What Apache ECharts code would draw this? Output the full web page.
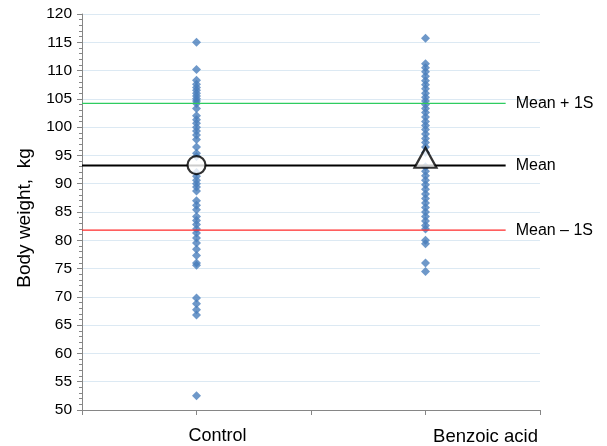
<!DOCTYPE html>
<html><head><meta charset="utf-8">
<script src="https://cdn.jsdelivr.net/npm/echarts@6/dist/echarts.min.js"></script>
<style>html,body{margin:0;padding:0;background:#fff}#c{width:607px;height:446px}</style>
</head><body><div id="c"></div>
<script>
var categories = ['Control', 'Benzoic acid'];
var categoryX = [1, 3];
var controlValues = [115, 110.2, 108.3, 107.6, 107, 106.5, 106, 105.5, 105, 104.6, 104.2, 103.3, 102, 101.3, 100.7, 100, 99.3, 98.6, 97.8, 96.5, 95.4, 94.8, 92, 91.3, 90.6, 90, 89.4, 88.7, 87, 86.2, 85.4, 84.2, 83.5, 82.8, 82, 81.3, 80.4, 79.5, 78.4, 77.3, 76, 75.6, 69.8, 68.8, 67.7, 66.8, 52.5];
var benzoicValues = [115.7, 111.2, 110.5, 109.8, 109, 108.2, 107.5, 106.8, 106, 105.3, 104.6, 104, 103.3, 102.6, 101.8, 101, 100.3, 99.6, 98.8, 98, 97.3, 96.5, 95.5, 93, 92.2, 91.4, 90.6, 89.8, 89, 88.2, 87.4, 86.6, 85.8, 85, 84.2, 83.4, 82.6, 82, 80, 79.4, 76, 74.5];
var groupMeans = [93.3, 94.6];
var refNames = ['Mean + 1S', 'Mean', 'Mean \u2013 1S'];
var refValues = [104.2, 93.2, 81.8];
var refColors = ['#2ecc60', '#000000', '#ff2a2a'];
var refLineEnd = 3.7;
var yTicks = {min: 50, max: 120, interval: 5};

var chart = echarts.init(document.getElementById('c'));
var series = [];
[controlValues, benzoicValues].forEach(function (vals, i) {
  series.push({
    type: 'scatter', name: categories[i], symbol: 'diamond', symbolSize: 9,
    itemStyle: {color: '#4a7ebb'}, z: 2, silent: true,
    data: vals.map(function (v) { return [categoryX[i], v]; })
  });
});
refValues.forEach(function (v, i) {
  series.push({
    type: 'line', name: refNames[i], symbol: 'none', z: 3, silent: true,
    lineStyle: {color: refColors[i], width: i === 1 ? 2 : 1.3},
    data: [[0, v], [refLineEnd, v]],
    endLabel: {show: true, formatter: refNames[i], color: '#000', fontSize: 16,
      fontFamily: 'Liberation Sans', distance: 10}
  });
});
series.push({
  type: 'scatter', symbol: 'circle', symbolSize: 18, z: 5, silent: true,
  itemStyle: {color: '#fff', borderColor: '#000', borderWidth: 2.2},
  data: [[categoryX[0], groupMeans[0]]]
});
series.push({
  type: 'scatter', symbol: 'triangle', symbolSize: [22, 20], z: 5, silent: true,
  itemStyle: {color: '#fff', borderColor: '#000', borderWidth: 2.2},
  data: [[categoryX[1], groupMeans[1]]]
});

chart.setOption({
  animation: false,
  grid: {left: 82, right: 67, top: 14, bottom: 36},
  xAxis: {
    type: 'value', min: 0, max: 4, interval: 1,
    axisLine: {lineStyle: {color: '#868686'}},
    axisTick: {show: true, inside: false, length: 5, lineStyle: {color: '#868686'}},
    splitLine: {show: false},
    axisLabel: {
      margin: 17, color: '#000', fontSize: 18, fontFamily: 'Liberation Sans',
      formatter: function (v) {
        var i = categoryX.indexOf(v);
        if (i < 0) return '';
        return '{' + (i === 0 ? 'a' : 'b') + '|' + categories[i] + '}';
      },
      rich: {
        a: {padding: [0, 0, 0, 42], fontSize: 18, fontFamily: 'Liberation Sans', color: '#000'},
        b: {padding: [0, 0, 0, 120], fontSize: 18.5, fontFamily: 'Liberation Sans', color: '#000'}
      }
    }
  },
  yAxis: {
    type: 'value', min: yTicks.min, max: yTicks.max, interval: yTicks.interval,
    name: 'Body weight,  kg', nameLocation: 'middle', nameGap: 48,
    nameTextStyle: {color: '#000', fontSize: 19, fontFamily: 'Liberation Sans', padding: [0, 12, 0, 0]},
    axisLine: {show: true, lineStyle: {color: '#868686'}},
    axisTick: {show: true, length: 5, lineStyle: {color: '#868686'}},
    minorTick: {show: true, splitNumber: 5, length: 3, lineStyle: {color: '#868686'}},
    splitLine: {show: true, lineStyle: {color: '#dce9f3', width: 1}},
    axisLabel: {color: '#000', fontSize: 15.5, fontFamily: 'Liberation Sans', margin: 10}
  },
  series: series
});
</script>
</body></html>
